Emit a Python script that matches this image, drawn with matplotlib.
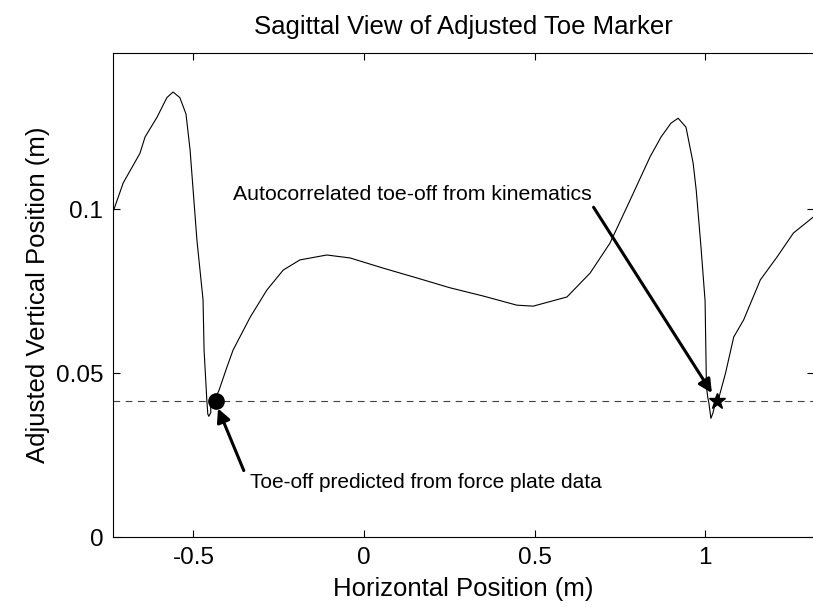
import matplotlib
matplotlib.use('Agg')
import matplotlib.pyplot as plt

# toe marker path
toe_x = [-0.736, -0.706, -0.657, -0.642, -0.607, -0.578, -0.560, -0.540, -0.522,
         -0.510, -0.490, -0.472, -0.469, -0.463, -0.461, -0.458, -0.455, -0.449,
         -0.450, -0.444, -0.435, -0.425, -0.402, -0.384, -0.334, -0.285, -0.237,
         -0.188, -0.109, -0.041, 0.056, 0.155, 0.252, 0.349, 0.448, 0.496, 0.595,
         0.663, 0.721, 0.780, 0.839, 0.871, 0.900, 0.921, 0.944, 0.965, 0.974,
         0.988, 1.000, 1.004, 1.008, 1.011, 1.017, 1.023, 1.028, 1.035, 1.041,
         1.060, 1.084, 1.113, 1.162, 1.211, 1.259, 1.320]
toe_y = [0.0991, 0.108, 0.117, 0.122, 0.128, 0.134, 0.1357, 0.134, 0.129,
         0.118, 0.0906, 0.0723, 0.057, 0.0457, 0.0418, 0.0375, 0.0368, 0.0380,
         0.0402, 0.0410, 0.0425, 0.0448, 0.0518, 0.057, 0.067, 0.0753, 0.0814,
         0.0845, 0.0860, 0.0851, 0.0820, 0.0790, 0.0760, 0.0735, 0.0707, 0.0704, 0.0732,
         0.0805, 0.0896, 0.1027, 0.116, 0.122, 0.1262, 0.1277, 0.125, 0.114, 0.1058,
         0.0884, 0.072, 0.0457, 0.0425, 0.0410, 0.0362, 0.0378, 0.0400, 0.0415, 0.0427,
         0.0500, 0.0610, 0.0662, 0.0784, 0.0854, 0.0927, 0.0978]

toeoff_level = 0.0415
plate_pt = (-0.434, 0.0415)
kin_pt = (1.035, 0.0415)

x_ticks = [-0.5, 0, 0.5, 1]
x_labels = ['-0.5', '0', '0.5', '1']
y_ticks = [0, 0.05, 0.1]
y_labels = ['0', '0.05', '0.1']

plt.rcParams['font.family'] = ['Liberation Sans', 'DejaVu Sans']

fig = plt.figure(figsize=(8.13, 6.07), dpi=100)
ax = fig.add_axes([0.139, 0.1153, 0.8625, 0.7974])

ax.plot(toe_x, toe_y, color='black', lw=0.8)
ax.axhline(toeoff_level, color='0.25', lw=0.8, linestyle=(0, (6, 5)))
ax.plot(*plate_pt, 'o', color='black', markersize=11)
ax.plot(*kin_pt, '*', color='black', markersize=12)

ax.annotate('Toe-off predicted from force plate data', xy=(-0.428, 0.0392),
            xytext=(-0.334, 0.0165), fontsize=15, va='center', ha='left',
            arrowprops=dict(arrowstyle='-|>', lw=2.2, color='black',
                            mutation_scale=20, shrinkA=0, shrinkB=0,
                            relpos=(-0.018, 1.15)))
ax.annotate('Autocorrelated toe-off from kinematics', xy=(1.02, 0.0439),
            xytext=(-0.384, 0.1043), fontsize=15.3, va='center', ha='left',
            arrowprops=dict(arrowstyle='-|>', lw=2.2, color='black',
                            mutation_scale=20, shrinkA=0, shrinkB=0,
                            relpos=(1.0, 0.0)))

ax.set_xlim(-0.736, 1.32)
ax.set_ylim(0, 0.1476)
ax.set_xticks(x_ticks)
ax.set_xticklabels(x_labels)
ax.set_yticks(y_ticks)
ax.set_yticklabels(y_labels)
ax.tick_params(direction='in', top=True, right=True, length=5, labelsize=17.5, pad=7)
for s in ax.spines.values():
    s.set_linewidth(0.8)

ax.set_title('Sagittal View of Adjusted Toe Marker', fontsize=18.5, pad=14)
ax.set_xlabel('Horizontal Position (m)', fontsize=18.5, labelpad=6)
ax.set_ylabel('Adjusted Vertical Position (m)', fontsize=18.5, labelpad=4)

fig.savefig('out.png', dpi=100)
